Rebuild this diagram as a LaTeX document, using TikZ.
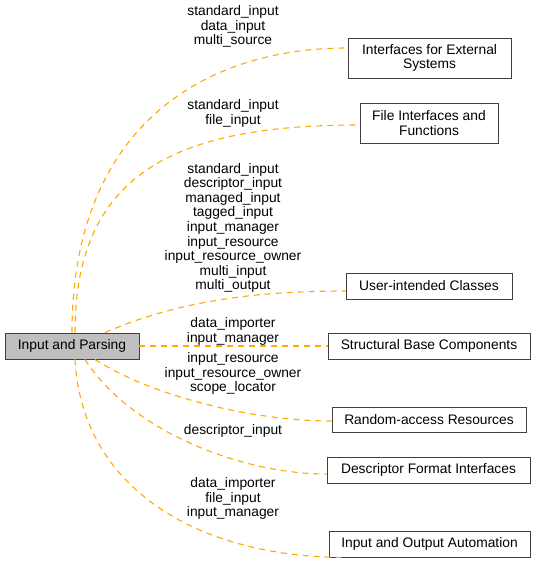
\documentclass[tikz,border=0pt]{standalone}
\usepackage{fontspec}
\setmainfont{Liberation Sans}
\begin{document}
\begin{tikzpicture}[x=1pt,y=-1pt,
  every node/.style={font=\fontsize{13.8}{14.6}\selectfont},
  grp/.style={draw=black!75,line width=0.9pt,inner sep=0pt,align=center},
  cur/.style={grp,fill=black!25},
  lbl/.style={align=center,inner sep=0pt},
  dep/.style={draw={rgb,255:red,255;green,170;blue,0},line width=1.1pt,dash pattern=on 6pt off 5pt}]
\useasboundingbox (0,0) rectangle (536,564);
\node[cur,minimum width=134pt,minimum height=26pt] (src) at (72,346) {Input and Parsing};
\node[grp,minimum width=163pt,minimum height=40pt] (ext) at (429.5,58) {Interfaces for External\\Systems};
\node[grp,minimum width=138pt,minimum height=40pt] (file) at (429,123) {File Interfaces and\\Functions};
\node[grp,minimum width=166pt,minimum height=26pt] (user) at (429,286) {User-intended Classes};
\node[grp,minimum width=202pt,minimum height=26pt] (base) at (429,346) {Structural Base Components};
\node[grp,minimum width=194pt,minimum height=25pt] (rand) at (429,419.5) {Random-access Resources};
\node[grp,minimum width=203pt,minimum height=26pt] (desc) at (428.5,470) {Descriptor Format Interfaces};
\node[grp,minimum width=201pt,minimum height=26pt] (auto) at (429.5,544) {Input and Output Automation};

\draw[dep] (src.north) .. controls (72,130) and (200,48) .. ([yshift=10pt]ext.west);
\draw[dep] ([xshift=3pt]src.north) .. controls (75,170) and (180,125) .. ([yshift=-2pt]file.west);
\draw[dep] ([xshift=33pt]src.north) .. controls (180,300) and (260,291) .. ([yshift=-5pt]user.west);
\draw[dep] (src.east) -- (base.west);
\draw[dep] ([xshift=23pt]src.south) .. controls (150,395) and (250,421) .. ([yshift=-1.5pt]rand.west);
\draw[dep] ([xshift=13pt]src.south) .. controls (130,430) and (240,474) .. ([yshift=-4pt]desc.west);
\draw[dep] ([xshift=3pt]src.south) .. controls (82,490) and (200,557) .. ([xshift=-85pt]auto.south);

\node[lbl] (l1) at (233,26.5) {standard\_input\\data\_input\\multi\_source};
\node[lbl] (l2) at (233,113.5) {standard\_input\\file\_input};
\node[lbl] (l3) at (233,228) {standard\_input\\descriptor\_input\\managed\_input\\tagged\_input\\input\_manager\\input\_resource\\input\_resource\_owner\\multi\_input\\multi\_output};
\node[lbl] (l4) at (233,331.5) {data\_importer\\input\_manager};
\node[lbl] (l5) at (233,373.5) {input\_resource\\input\_resource\_owner\\scope\_locator};
\node[lbl] (l6) at (233,431) {descriptor\_input};
\node[lbl] (l7) at (233,498.5) {data\_importer\\file\_input\\input\_manager};
\end{tikzpicture}
\end{document}
